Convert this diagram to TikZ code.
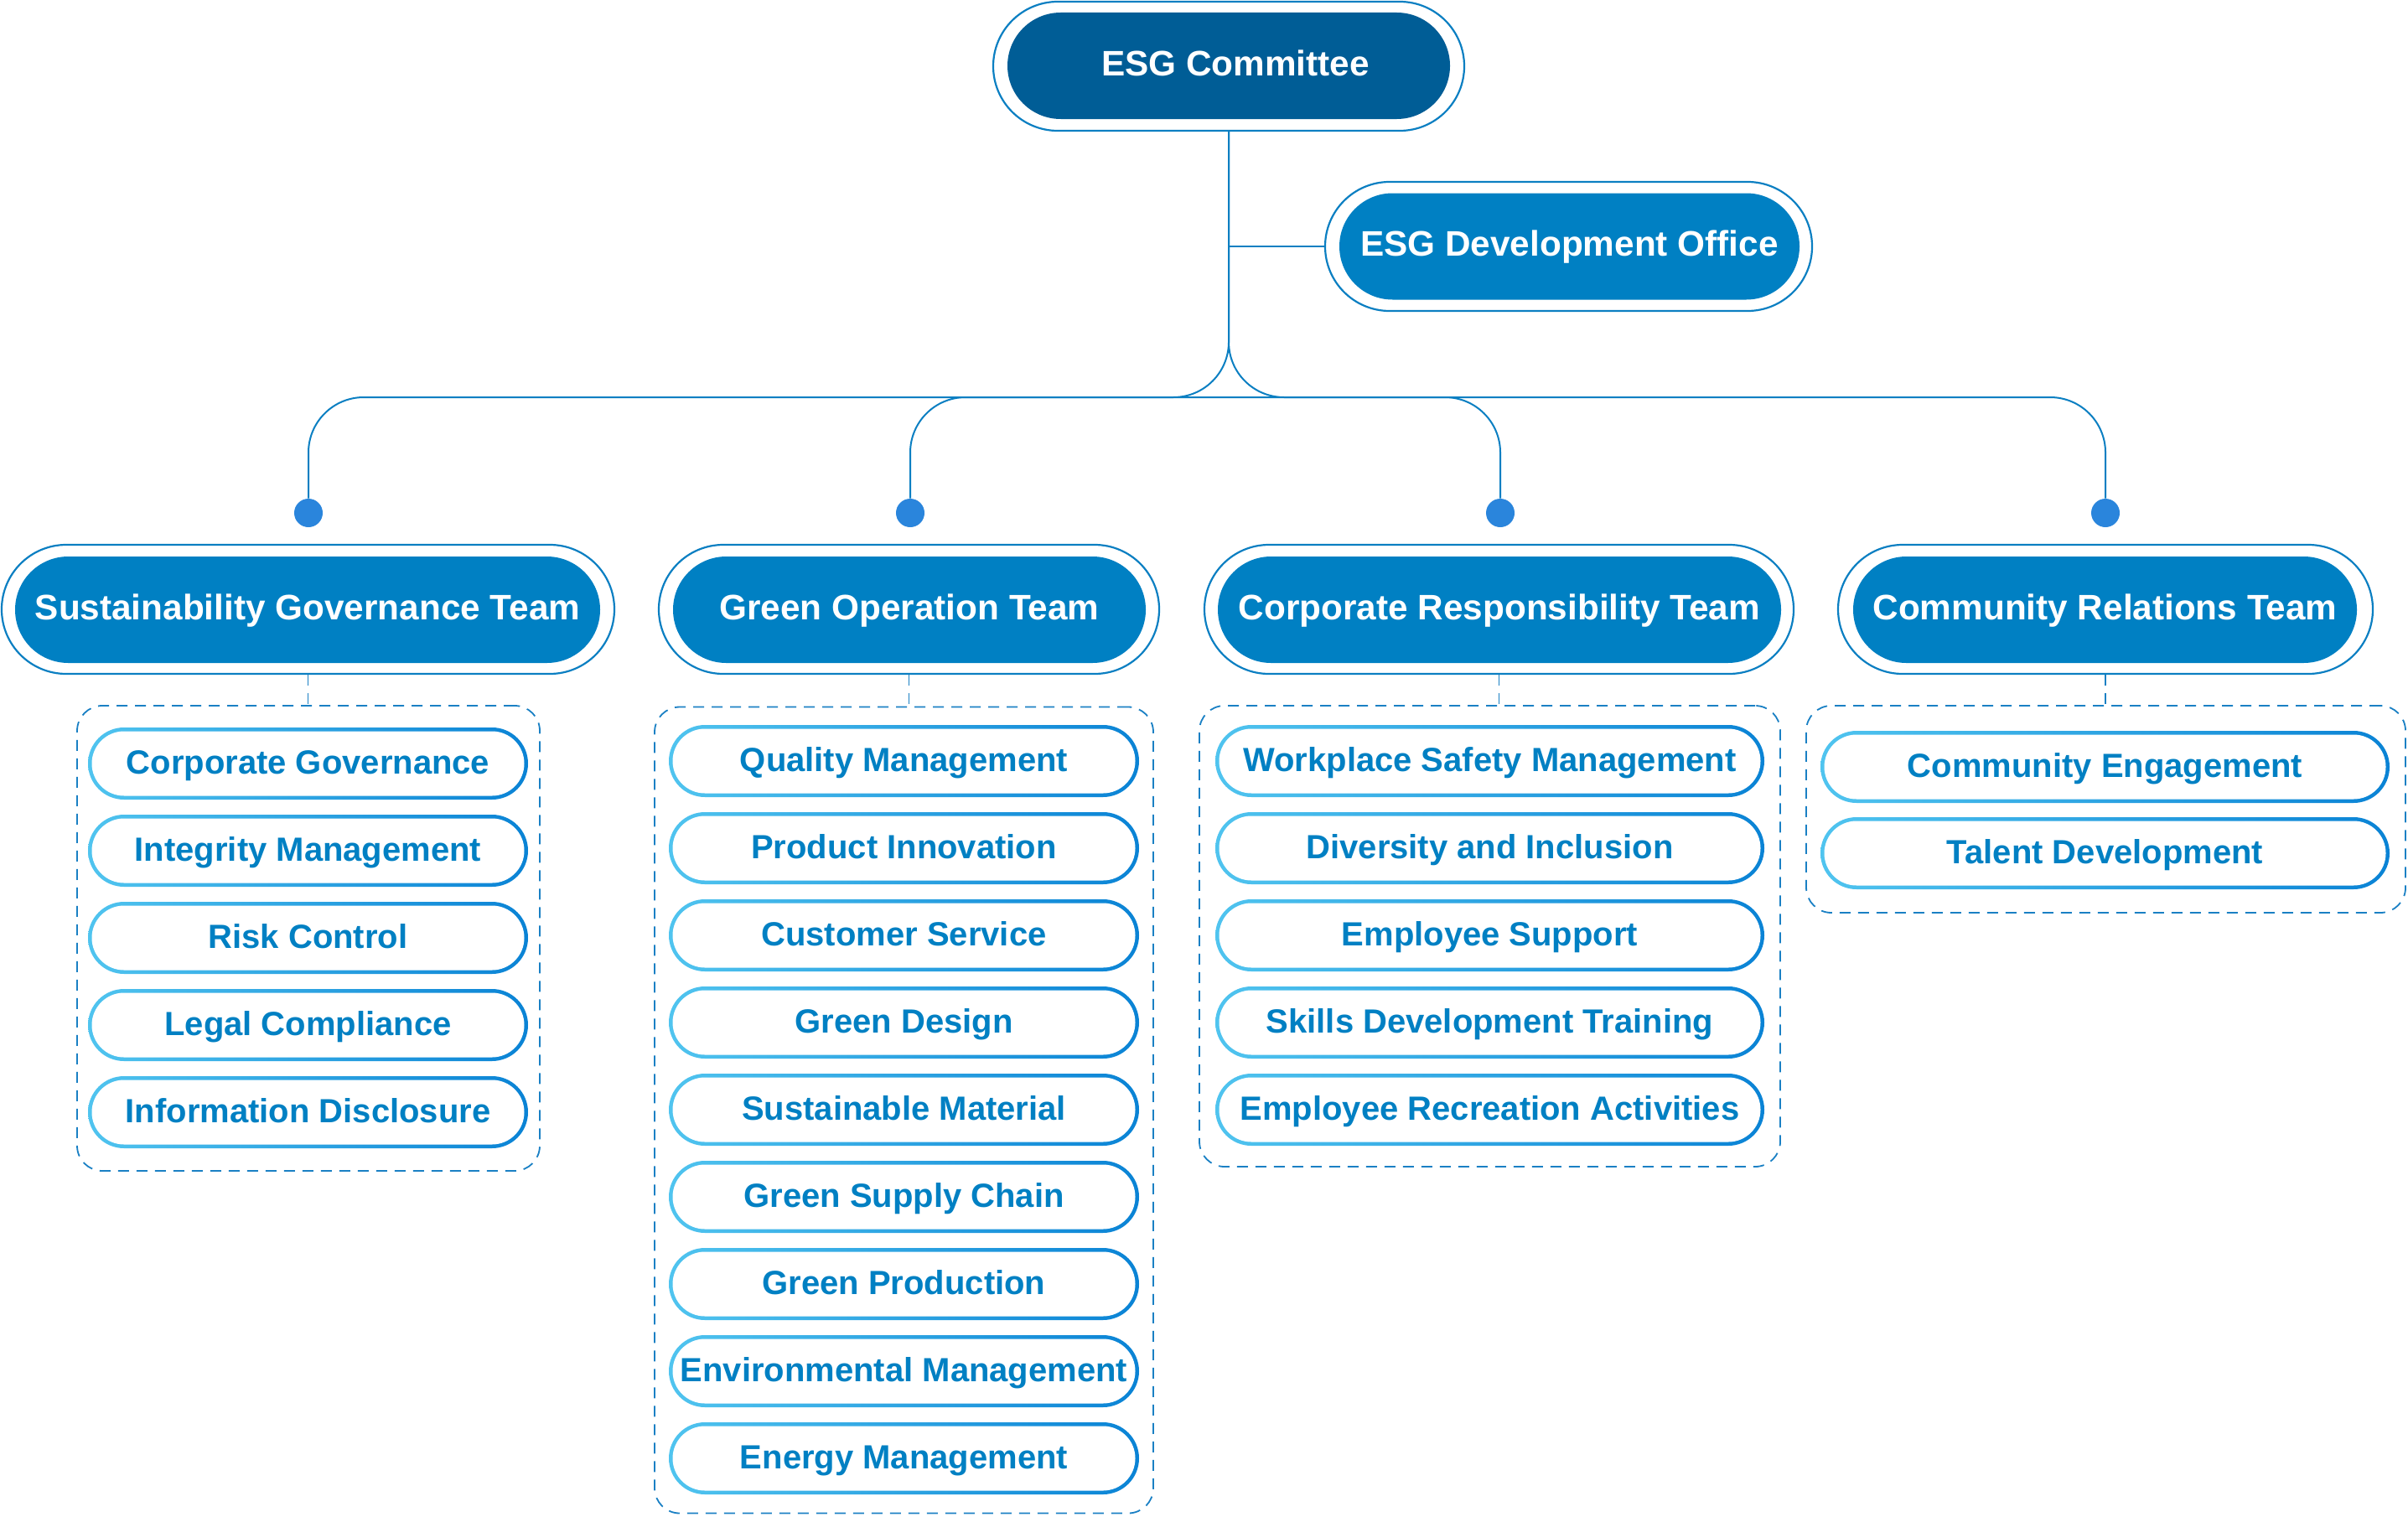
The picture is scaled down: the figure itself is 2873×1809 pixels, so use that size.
\documentclass[tikz,border=0pt]{standalone}
\usepackage{fontspec}
\setmainfont{Liberation Sans}
\definecolor{lineblue}{HTML}{0B7FC2}
\definecolor{darkfill}{HTML}{005D96}
\definecolor{midfill}{HTML}{0080C3}
\definecolor{dotblue}{HTML}{2A85DC}
\definecolor{gradL}{HTML}{50C4EF}
\definecolor{gradR}{HTML}{0A83D5}
\definecolor{dashblue}{HTML}{1A80C4}
\definecolor{itemtext}{HTML}{0080C3}
\tikzset{
  conn/.style={draw=lineblue, line width=1pt},
  ring/.style={draw=lineblue, line width=1.1pt, fill=white, rounded corners=38.5pt,
    minimum height=77pt, inner sep=0pt},
  headfill/.style={rounded corners=31.75pt, minimum height=63.5pt, inner sep=0pt,
    text=white, font=\fontsize{21.15}{25}\selectfont\bfseries, text height=15.1pt, text depth=3.5pt},
  dotst/.style={circle, fill=dotblue, minimum size=17pt, inner sep=0pt},
  dashline/.style={draw=dashblue, line width=0.9pt, dash pattern=on 6.5pt off 4.5pt},
  groupbox/.style={draw=dashblue, line width=0.9pt, dash pattern=on 6.5pt off 4.5pt,
    rounded corners=15pt, inner sep=0pt},
  itemout/.style={rounded corners=21.5pt, minimum height=43pt, inner sep=0pt,
    left color=gradL, right color=gradR},
  itemin/.style={rounded corners=19.25pt, minimum height=38.5pt, inner sep=0pt, fill=white,
    text=itemtext, font=\fontsize{20}{24}\selectfont\bfseries, text height=14.3pt, text depth=1.6pt},
}
\newcommand\itm[5]{%
  \node[itemout, minimum width=#4] (#1o) at (#2,#3) {};
  \node[itemin, minimum width=#4-4.5pt] (#1) at (#2,#3) {#5};}
\begin{document}
\begin{tikzpicture}[x=0.5pt, y=-0.5pt]
\useasboundingbox (0,0) rectangle (2873,1809);

% top level
\node[ring, minimum width=281pt] (como) at (1466,79) {};
\node[headfill, fill=darkfill, minimum width=264pt] (com) at (1466,78.5) {\hspace*{8pt}ESG Committee};
\node[ring, minimum width=290.5pt] (devo) at (1871.5,294) {};
\node[headfill, fill=midfill, minimum width=274.5pt] (dev) at (1872.5,294) {ESG Development Office};

% teams
\node[ring, minimum width=365.5pt] (t1o) at (367.5,727) {};
\node[headfill, fill=midfill, minimum width=349pt] (t1) at (367,727.5) {Sustainability Governance Team};
\node[ring, minimum width=298.5pt] (t2o) at (1084.5,727) {};
\node[headfill, fill=midfill, minimum width=282pt] (t2) at (1085,727.5) {Green Operation Team};
\node[ring, minimum width=351.5pt] (t3o) at (1788.5,727) {};
\node[headfill, fill=midfill, minimum width=336pt] (t3) at (1789,727.5) {Corporate Responsibility Team};
\node[ring, minimum width=319pt] (t4o) at (2512,727) {};
\node[headfill, fill=midfill, minimum width=300.5pt] (t4) at (2511.5,727.5) {Community Relations Team};

% dots
\node[dotst] (d1) at (368,612) {};
\node[dotst] (d2) at (1086,612) {};
\node[dotst] (d3) at (1790,612) {};
\node[dotst] (d4) at (2512,612) {};

% connectors
\coordinate (jn) at (1466,474);
\draw[conn] (como.south |- devo.west) -- (devo.west);
\draw[conn, rounded corners=33pt] (como.south) -- (jn) -| (d1.north);
\draw[conn, rounded corners=33pt] (como.south) -- (jn) -| (d4.north);
\draw[conn, rounded corners=33pt] (jn) -| (d2.north);
\draw[conn, rounded corners=33pt] (jn) -| (d3.north);

% group boxes
\node[groupbox, minimum width=276pt, minimum height=277.5pt] (c1) at (368,1119.5) {};
\node[groupbox, minimum width=297.5pt, minimum height=481pt] (c2) at (1078.5,1324.5) {};
\node[groupbox, minimum width=346.5pt, minimum height=275pt] (c3) at (1777.5,1117) {};
\node[groupbox, minimum width=357.5pt, minimum height=123.5pt] (c4) at (2512.5,965.5) {};

\draw[dashline] (t1o.south) -- (t1o.south |- c1.north);
\draw[dashline] (t2o.south) -- (t2o.south |- c2.north);
\draw[dashline] (t3o.south) -- (t3o.south |- c3.north);
\draw[dashline] (t4o.south) -- (t4o.south |- c4.north);

% column 1
\itm{a1}{367.5}{911}{262.5pt}{Corporate Governance}
\itm{a2}{367.5}{1015}{262.5pt}{Integrity Management}
\itm{a3}{367.5}{1119}{262.5pt}{Risk Control}
\itm{a4}{367.5}{1223}{262.5pt}{Legal Compliance}
\itm{a5}{367.5}{1327}{262.5pt}{Information Disclosure}

% column 2
\itm{b1}{1078.5}{908}{280.5pt}{Quality Management}
\itm{b2}{1078.5}{1012}{280.5pt}{Product Innovation}
\itm{b3}{1078.5}{1116}{280.5pt}{Customer Service}
\itm{b4}{1078.5}{1220}{280.5pt}{Green Design}
\itm{b5}{1078.5}{1324}{280.5pt}{Sustainable Material}
\itm{b6}{1078.5}{1428}{280.5pt}{Green Supply Chain}
\itm{b7}{1078.5}{1532}{280.5pt}{Green Production}
\itm{b8}{1078.5}{1636}{280.5pt}{Environmental Management}
\itm{b9}{1078.5}{1740}{280.5pt}{Energy Management}

% column 3
\itm{e1}{1777.5}{908}{327.5pt}{Workplace Safety Management}
\itm{e2}{1777.5}{1012}{327.5pt}{Diversity and Inclusion}
\itm{e3}{1777.5}{1116}{327.5pt}{Employee Support}
\itm{e4}{1777.5}{1220}{327.5pt}{Skills Development Training}
\itm{e5}{1777.5}{1324}{327.5pt}{Employee Recreation Activities}

% column 4
\itm{f1}{2511.5}{915}{339.5pt}{Community Engagement}
\itm{f2}{2511.5}{1018}{339.5pt}{Talent Development}
\end{tikzpicture}
\end{document}
